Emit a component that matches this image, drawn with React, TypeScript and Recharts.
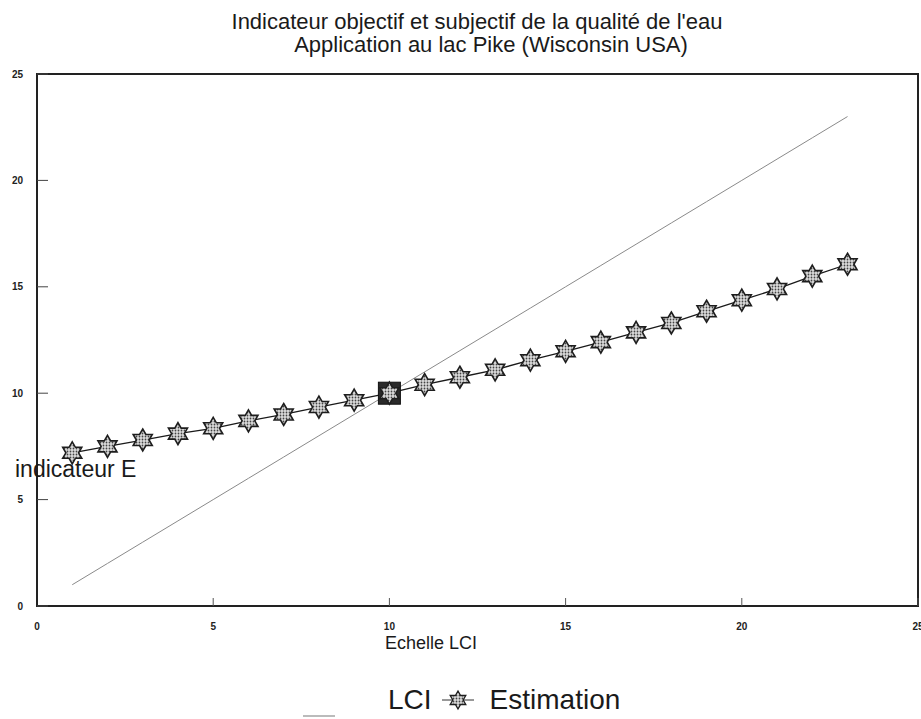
import React from "react";
import { LineChart, Line, XAxis, YAxis, ReferenceArea } from "recharts";

const X_VALUES = [1, 2, 3, 4, 5, 6, 7, 8, 9, 10, 11, 12, 13, 14, 15, 16, 17, 18, 19, 20, 21, 22, 23];
const LCI = [1, 2, 3, 4, 5, 6, 7, 8, 9, 10, 11, 12, 13, 14, 15, 16, 17, 18, 19, 20, 21, 22, 23];
const ESTIMATION = [
  7.2, 7.5, 7.8, 8.1, 8.35, 8.7, 9.0, 9.35, 9.67, 10, 10.4, 10.75,
  11.1, 11.55, 11.97, 12.4, 12.86, 13.3, 13.85, 14.37, 14.9, 15.5, 16.06,
];
const X_TICKS = [0, 5, 10, 15, 20, 25];
const Y_TICKS = [0, 5, 10, 15, 20, 25];
const HIGHLIGHT_X = 10;

const FONT = "'Liberation Sans', Arial, sans-serif";

const data = X_VALUES.map((x, i) => ({ x, lci: LCI[i], est: ESTIMATION[i] }));

function starPath(cx: number, cy: number, R: number) {
  const r = R / Math.sqrt(3);
  const pts: string[] = [];
  for (let k = 0; k < 12; k++) {
    const a = (-90 + k * 30) * (Math.PI / 180);
    const rad = k % 2 === 0 ? R : r;
    pts.push(`${(cx + rad * Math.cos(a)).toFixed(2)},${(cy + rad * Math.sin(a)).toFixed(2)}`);
  }
  return "M" + pts.join("L") + "Z";
}

function StarDot(props: any) {
  const { cx, cy, payload } = props;
  if (cx == null || cy == null) return null;
  const hl = payload && payload.x === HIGHLIGHT_X;
  return (
    <g>
      {hl && <rect x={cx - 11} y={cy - 11} width={22} height={22} fill="#2a2a2a" stroke="#111" strokeWidth={1} />}
      <path d={starPath(cx, cy, 11)} fill="url(#dotPattern)" stroke="#1e1e1e" strokeWidth={1.6} strokeLinejoin="miter" />
    </g>
  );
}

const tickStyle = { fontSize: 10, fontWeight: 700, fill: "#222", fontFamily: FONT };

export default function App() {
  return (
    <div style={{ position: "absolute", left: 0, top: 0, width: 921, height: 719, background: "#fff", fontFamily: FONT, color: "#1a1a1a" }}>
      <svg width={0} height={0} style={{ position: "absolute" }}>
        <defs>
          <pattern id="dotPattern" width={3} height={3} patternUnits="userSpaceOnUse">
            <rect width={3} height={3} fill="#dcdcdc" />
            <circle cx={1.5} cy={1.5} r={0.9} fill="#444" />
          </pattern>
        </defs>
      </svg>

      <div style={{ position: "absolute", left: 0, width: 954, top: 9, textAlign: "center", fontSize: 22, lineHeight: "25px" }}>
        Indicateur objectif et subjectif de la qualité de l'eau
      </div>
      <div style={{ position: "absolute", left: 0, width: 982, top: 32, textAlign: "center", fontSize: 22, lineHeight: "25px" }}>
        Application au lac Pike (Wisconsin USA)
      </div>

      <LineChart width={921} height={719} data={data} margin={{ top: 74, right: 3, left: 0, bottom: 83 }}>
        <XAxis
          type="number"
          dataKey="x"
          domain={[0, 25]}
          ticks={X_TICKS}
          interval={0}
          height={30}
          tickSize={-8}
          tickMargin={25}
          tick={tickStyle}
          axisLine={{ stroke: "#222", strokeWidth: 2 }}
          tickLine={{ stroke: "#555" }}
        />
        <YAxis
          type="number"
          domain={[0, 25]}
          ticks={Y_TICKS}
          interval={0}
          width={37}
          tickSize={-11}
          tickMargin={25}
          tick={tickStyle}
          axisLine={{ stroke: "#222", strokeWidth: 2 }}
          tickLine={{ stroke: "#444" }}
        />
        <ReferenceArea x1={0} x2={25} y1={0} y2={25} fill="none" stroke="#222" strokeWidth={2} ifOverflow="visible" />
        <Line
          type="linear"
          dataKey="lci"
          stroke="#8a8a8a"
          strokeWidth={1}
          dot={false}
          activeDot={false}
          isAnimationActive={false}
        />
        <Line
          type="linear"
          dataKey="est"
          stroke="#1a1a1a"
          strokeWidth={1.3}
          dot={<StarDot />}
          activeDot={false}
          isAnimationActive={false}
        />
      </LineChart>

      <div style={{ position: "absolute", left: 15, top: 456, fontSize: 23, lineHeight: "26px" }}>indicateur E</div>

      <div style={{ position: "absolute", left: 0, width: 862, top: 633, textAlign: "center", fontSize: 18, lineHeight: "21px" }}>
        Echelle LCI
      </div>

      <div style={{ position: "absolute", left: 303, top: 715, width: 32, height: 2, background: "#bbb" }} />
      <div style={{ position: "absolute", left: 388, top: 683, fontSize: 28, lineHeight: "34px", display: "flex", alignItems: "center" }}>
        <span>LCI</span>
        <svg width={36} height={24} style={{ marginLeft: 8, marginRight: 14 }}>
          <line x1={2} y1={12} x2={34} y2={12} stroke="#333" strokeWidth={1} />
          <path d={starPath(18, 12, 9)} fill="url(#dotPattern)" stroke="#1e1e1e" strokeWidth={1.3} />
        </svg>
        <span>Estimation</span>
      </div>
    </div>
  );
}
